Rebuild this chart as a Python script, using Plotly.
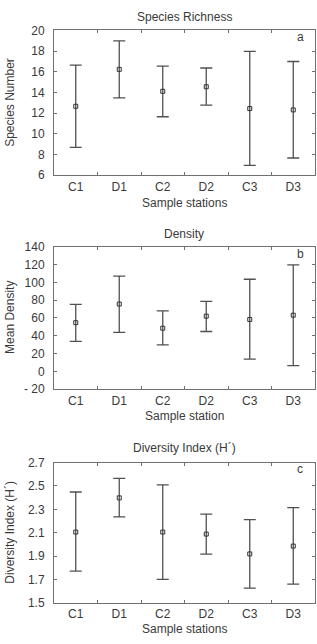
import plotly.graph_objects as go

stations = ["C1", "D1", "C2", "D2", "C3", "D3"]

rich_mean = [12.67, 16.24, 14.12, 14.56, 12.45, 12.32]
rich_upper = [16.65, 18.99, 16.56, 16.37, 17.98, 17.00]
rich_lower = [8.69, 13.49, 11.66, 12.79, 6.95, 7.67]

dens_mean = [54.7, 75.6, 48.5, 62.0, 58.3, 63.1]
dens_upper = [75.2, 107.0, 67.9, 78.5, 103.4, 119.5]
dens_lower = [33.8, 43.7, 29.8, 44.8, 13.7, 6.4]

div_mean = [2.105, 2.398, 2.105, 2.088, 1.918, 1.985]
div_upper = [2.448, 2.565, 2.51, 2.259, 2.211, 2.314]
div_lower = [1.771, 2.236, 1.70, 1.916, 1.626, 1.659]

rich_ticks = [6, 8, 10, 12, 14, 16, 18, 20]
dens_ticks = [-20, 0, 20, 40, 60, 80, 100, 120, 140]
dens_ticktext = ["- 20", "0", "20", "40", "60", "80", "100", "120", "140"]
div_ticks = [1.5, 1.7, 1.9, 2.1, 2.3, 2.5, 2.7]
div_ticktext = ["1.5", "1.7", "1.9", "2.1", "2.3", "2.5", "2.7"]

W, H = 317, 644
FONT = "Liberation Sans, Arial, sans-serif"
TXT = "#3a3a3a"
LINE = "#707070"
BAR = "#505050"
FS = 12

panels = [
    dict(mean=rich_mean, up=rich_upper, lo=rich_lower, top=24, bot=172,
         rng=[6, 20], tv=rich_ticks, tt=[str(t) for t in rich_ticks],
         title="Species Richness", title_y=10, xt="Sample stations", xt_y=200,
         yt="Species Number", letter="a"),
    dict(mean=dens_mean, up=dens_upper, lo=dens_lower, top=245, bot=390.7,
         rng=[-20, 140], tv=dens_ticks, tt=dens_ticktext,
         title="Density", title_y=232, xt="Sample station", xt_y=418.5,
         yt="Mean Density", letter="b"),
    dict(mean=div_mean, up=div_upper, lo=div_lower, top=465.7, bot=609,
         rng=[1.5, 2.7], tv=div_ticks, tt=div_ticktext,
         title="Diversity Index (H\u00b4)", title_y=451, xt="Sample stations", xt_y=635.5,
         yt="Diversity Index (H\u00b4)", letter="c"),
]

fig = go.Figure()
x0, x1 = 54 / W, 315 / W
annotations = []
for i, p in enumerate(panels):
    n = "" if i == 0 else str(i + 1)
    plus = [u - m for u, m in zip(p["up"], p["mean"])]
    minus = [m - l for m, l in zip(p["mean"], p["lo"])]
    fig.add_trace(go.Scatter(
        x=stations, y=p["mean"], mode="markers",
        marker=dict(symbol="square-open", size=4, color="#333333", line=dict(width=1)),
        error_y=dict(type="data", symmetric=False, array=plus, arrayminus=minus,
                     color=BAR, thickness=1.3, width=6),
        xaxis="x" + n, yaxis="y" + n, showlegend=False, hoverinfo="skip"))
    d0 = 1 - p["bot"] / H
    d1 = 1 - p["top"] / H
    fig.layout["xaxis" + n] = dict(
        domain=[x0, x1], anchor="y" + n, type="category", range=[-0.5, 5.5],
        showline=True, linecolor=LINE, linewidth=1, mirror="ticks",
        ticks="inside", ticklen=3, tickcolor=LINE, tickson="boundaries",
        showgrid=False, zeroline=False, ticklabelstandoff=0,
        tickfont=dict(family=FONT, size=FS, color=TXT), fixedrange=True)
    fig.layout["yaxis" + n] = dict(
        domain=[d0, d1], anchor="x" + n, range=p["rng"],
        tickvals=p["tv"], ticktext=p["tt"],
        showline=True, linecolor=LINE, linewidth=1, mirror="ticks",
        ticks="inside", ticklen=3, tickcolor=LINE,
        showgrid=False, zeroline=False, ticklabelstandoff=6,
        tickfont=dict(family=FONT, size=FS, color=TXT), fixedrange=True)
    annotations.append(dict(text=p["title"], x=184 / W, y=1 - p["title_y"] / H,
                            xref="paper", yref="paper", showarrow=False,
                            xanchor="center", yanchor="middle",
                            font=dict(family=FONT, size=FS, color=TXT)))
    annotations.append(dict(text=p["xt"], x=184 / W, y=1 - p["xt_y"] / H,
                            xref="paper", yref="paper", showarrow=False,
                            xanchor="center", yanchor="middle",
                            font=dict(family=FONT, size=FS, color=TXT)))
    annotations.append(dict(text=p["yt"], x=10 / W, y=1 - (p["top"] + p["bot"]) / 2 / H,
                            xref="paper", yref="paper", showarrow=False, textangle=-90,
                            xanchor="center", yanchor="middle",
                            font=dict(family=FONT, size=FS, color=TXT)))
    annotations.append(dict(text=p["letter"], x=300 / W, y=1 - (p["top"] + 7) / H,
                            xref="paper", yref="paper", showarrow=False,
                            xanchor="center", yanchor="middle",
                            font=dict(family=FONT, size=FS, color=TXT)))

fig.update_layout(width=W, height=H, margin=dict(l=0, r=0, t=0, b=0),
                  paper_bgcolor="white", plot_bgcolor="white",
                  annotations=annotations, showlegend=False)
fig.write_html("out.html", config={"displayModeBar": False})
